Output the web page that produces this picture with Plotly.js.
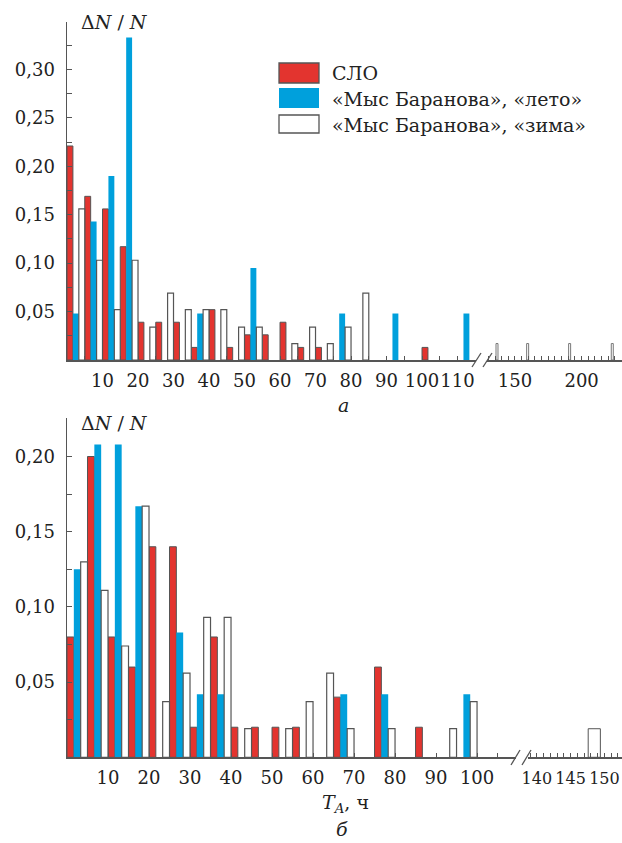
<!DOCTYPE html>
<html>
<head>
<meta charset="utf-8">
<script src="https://cdn.plot.ly/plotly-3.0.1.min.js"></script>
<style>
html,body{margin:0;padding:0;background:#fff;}
#chart{width:622px;height:843px;}
</style>
</head>
<body>
<div id="chart"></div>
<script>
// ---------- DATA ----------
const seriesNames = ['СЛО', '«Мыс Баранова», «лето»', '«Мыс Баранова», «зима»'];

// Panel a: bins of 5 h (centres), before the axis break
const topBins = [2.5,7.5,12.5,17.5,22.5,27.5,32.5,37.5,42.5,47.5,52.5,57.5,62.5,67.5,72.5,77.5,82.5,87.5,92.5,97.5,102.5,107.5,112.5];
const topSLO = [0.221,0.169,0.156,0.117,0.039,0.039,0.039,0.013,0.052,0.013,0.026,0.026,0.039,0.013,0.013,null,null,null,null,null,0.013,null,null];
const topSummer = [0.048,0.143,0.190,0.333,null,null,null,0.048,null,null,0.095,null,null,null,null,0.048,null,null,0.048,null,null,null,0.048];
const topWinter = [0.156,0.103,0.052,0.103,0.034,0.069,0.052,0.052,0.052,0.034,0.034,null,0.017,0.034,0.017,0.034,0.069,null,null,null,null,null,null];
// Panel a: after the break
const topTailX = [136.5,159.5,191,223];
const topTailWinter = [0.017,0.017,0.017,0.017];
const topTicks = [10,20,30,40,50,60,70,80,90,100,110];
const topTailTicks = [150,200];
const topYTicks = [0.05,0.10,0.15,0.20,0.25,0.30];

// Panel б
const botBins = [2.5,7.5,12.5,17.5,22.5,27.5,32.5,37.5,42.5,47.5,52.5,57.5,62.5,67.5,72.5,77.5,82.5,87.5,92.5,97.5];
const botSLO = [0.08,0.20,0.08,0.06,0.14,0.14,0.02,0.08,0.02,0.02,0.02,0.02,null,0.04,null,0.06,null,0.02,null,null];
const botSummer = [0.125,0.208,0.208,0.167,null,0.083,0.042,0.042,null,null,null,null,null,0.042,null,0.042,null,null,null,0.042];
const botWinter = [0.130,0.111,0.074,0.167,0.037,0.056,0.093,0.093,0.019,null,0.019,0.037,0.056,0.019,null,0.019,null,null,0.019,0.037];
const botTailX = [148.5];
const botTailWinter = [0.019];
const botTicks = [10,20,30,40,50,60,70,80,90,100];
const botTailTicks = [140,145,150];
const botYTicks = [0.05,0.10,0.15,0.20];

// ---------- STYLE ----------
const W = 622, H = 843;
const px = v => v / W;
const py = v => 1 - v / H;
const RED = '#e3342f', BLUE = '#00a0dc', EDGE = '#555555';
const SERIF = 'DejaVu Serif';
const binW = 5, sub = binW / 3;

const styles = [
  {color: RED, line: {color: EDGE, width: 1}},
  {color: BLUE, line: {color: BLUE, width: 0}},
  {color: '#ffffff', line: {color: EDGE, width: 1.2}}
];

function groupTraces(xs, arrays, xa, ya) {
  return arrays.map((arr, i) => ({
    type: 'bar', x: xs, y: arr, name: seriesNames[i], xaxis: xa, yaxis: ya,
    width: sub, offset: -binW / 2 + i * sub,
    marker: styles[i], showlegend: false, hoverinfo: 'x+y'
  }));
}

const traces = [
  ...groupTraces(topBins, [topSLO, topSummer, topWinter], 'x', 'y'),
  {type: 'bar', x: topTailX, y: topTailWinter, name: seriesNames[2], xaxis: 'x2', yaxis: 'y',
   width: 1.5, marker: {color: '#ffffff', line: {color: '#777', width: 1}}, showlegend: false},
  ...groupTraces(botBins, [botSLO, botSummer, botWinter], 'x3', 'y2'),
  {type: 'bar', x: botTailX, y: botTailWinter, name: seriesNames[2], xaxis: 'x4', yaxis: 'y2',
   width: 1.8, marker: {color: '#ffffff', line: {color: EDGE, width: 1}}, showlegend: false}
];

const tickFont = {family: SERIF, size: 18, color: '#222'};
function xAxis(domain, range, ticks, minorD, anchor, fontSize) {
  return {
    domain: domain, range: range, anchor: anchor,
    tickmode: 'array', tickvals: ticks, ticktext: ticks.map(String), tickangle: 0,
    ticks: 'inside', ticklen: 4, tickwidth: 1, tickcolor: EDGE,
    minor: {dtick: minorD, tick0: 0, ticks: 'inside', ticklen: 4, tickwidth: 1, tickcolor: EDGE},
    showline: true, linecolor: EDGE, linewidth: 1.5,
    showgrid: false, zeroline: false,
    tickfont: {family: SERIF, size: fontSize || 18, color: '#222'},
    ticklabelstandoff: fontSize ? 6 : 4,
    ticklabeloverflow: 'allow', fixedrange: true
  };
}
function yAxis(domain, range, ticks, anchor) {
  return {
    domain: domain, range: range, anchor: anchor,
    tickmode: 'array', tickvals: ticks, tickformat: '.2f', tickangle: 0,
    ticks: 'inside', ticklen: 5, tickwidth: 1, tickcolor: EDGE,
    minor: {dtick: 0.025, tick0: 0, ticks: 'inside', ticklen: 5, tickwidth: 1, tickcolor: EDGE},
    showline: true, linecolor: EDGE, linewidth: 1.5,
    showgrid: false, zeroline: false, tickfont: tickFont, ticklabelstandoff: 7, fixedrange: true
  };
}

const annFont = {family: SERIF, size: 19, color: '#222'};
const layout = {
  width: W, height: H,
  margin: {l: 0, r: 0, t: 0, b: 0},
  paper_bgcolor: '#fff', plot_bgcolor: 'rgba(0,0,0,0)',
  font: {family: SERIF, color: '#222'},
  separators: ', ',
  barmode: 'overlay',
  showlegend: false,
  xaxis: xAxis([px(67), px(476)], [0, 115.2], topTicks, 5, 'y'),
  xaxis2: xAxis([px(487), 1], [129, 230.3], topTailTicks, 5, 'y'),
  yaxis: yAxis([py(360), py(22)], [0, 0.349], topYTicks, 'x'),
  xaxis3: xAxis([px(67), px(516)], [0, 109.5], botTicks, 5, 'y2'),
  xaxis4: xAxis([px(528), 1], [138.7, 152.6], botTailTicks, 1, 'y2', 16),
  yaxis2: yAxis([py(757.3), py(418)], [0, 0.2256], botYTicks, 'x3'),
  shapes: [
    // axis break marks
    {type: 'line', xref: 'paper', yref: 'paper', x0: px(472), y0: py(367), x1: px(481), y1: py(353), line: {color: EDGE, width: 1.3}},
    {type: 'line', xref: 'paper', yref: 'paper', x0: px(483), y0: py(367), x1: px(492), y1: py(353), line: {color: EDGE, width: 1.3}},
    {type: 'line', xref: 'paper', yref: 'paper', x0: px(511), y0: py(765), x1: px(520), y1: py(750), line: {color: EDGE, width: 1.3}},
    {type: 'line', xref: 'paper', yref: 'paper', x0: px(522), y0: py(765), x1: px(531), y1: py(750), line: {color: EDGE, width: 1.3}},
    // legend swatches
    {type: 'rect', xref: 'paper', yref: 'paper', x0: px(279), x1: px(319), y0: py(83), y1: py(63), fillcolor: RED, line: {color: EDGE, width: 1.3}},
    {type: 'rect', xref: 'paper', yref: 'paper', x0: px(279), x1: px(319), y0: py(108), y1: py(88), fillcolor: BLUE, line: {color: BLUE, width: 0}},
    {type: 'rect', xref: 'paper', yref: 'paper', x0: px(279), x1: px(319), y0: py(133), y1: py(115), fillcolor: '#fff', line: {color: EDGE, width: 1.3}}
  ],
  annotations: [
    {xref: 'paper', yref: 'paper', x: px(79), y: py(22), xanchor: 'left', yanchor: 'middle', showarrow: false,
     text: 'Δ<i>N</i> / <i>N</i>', font: annFont},
    {xref: 'paper', yref: 'paper', x: px(79), y: py(423), xanchor: 'left', yanchor: 'middle', showarrow: false,
     text: 'Δ<i>N</i> / <i>N</i>', font: annFont},
    {xref: 'paper', yref: 'paper', x: px(343), y: py(405), xanchor: 'center', yanchor: 'middle', showarrow: false,
     text: '<i>а</i>', font: annFont},
    {xref: 'paper', yref: 'paper', x: px(345), y: py(803), xanchor: 'center', yanchor: 'middle', showarrow: false,
     text: '<i>T</i><sub><i>A</i></sub>, ч', font: annFont},
    {xref: 'paper', yref: 'paper', x: px(342), y: py(829), xanchor: 'center', yanchor: 'middle', showarrow: false,
     text: '<i>б</i>', font: annFont},
    // legend labels
    {xref: 'paper', yref: 'paper', x: px(330), y: py(73), xanchor: 'left', yanchor: 'middle', showarrow: false,
     text: seriesNames[0], font: annFont},
    {xref: 'paper', yref: 'paper', x: px(330), y: py(99), xanchor: 'left', yanchor: 'middle', showarrow: false,
     text: seriesNames[1], font: annFont},
    {xref: 'paper', yref: 'paper', x: px(330), y: py(125), xanchor: 'left', yanchor: 'middle', showarrow: false,
     text: seriesNames[2], font: annFont}
  ]
};

Plotly.newPlot('chart', traces, layout, {staticPlot: true, displayModeBar: false});
</script>
</body>
</html>
